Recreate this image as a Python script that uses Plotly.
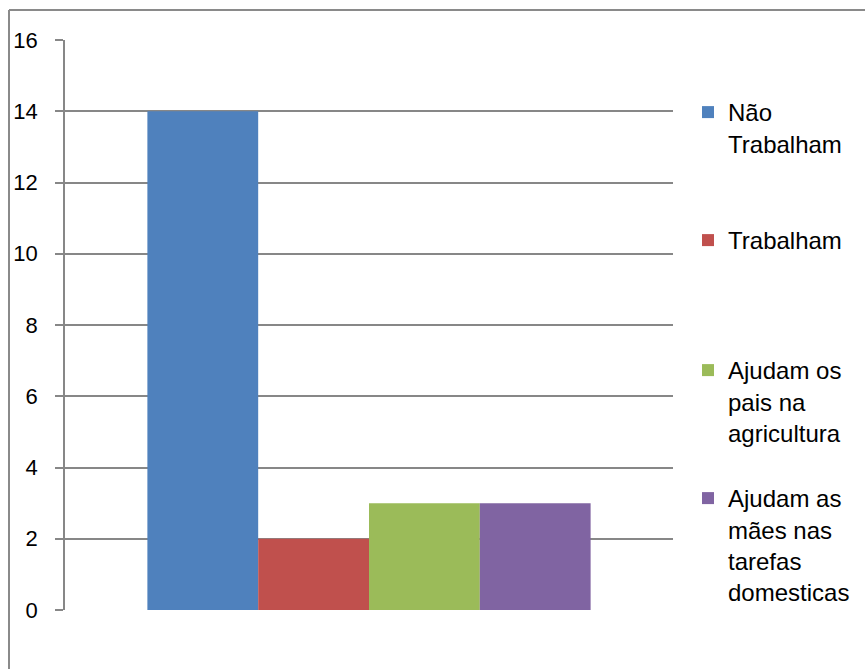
import plotly.graph_objects as go

categories = [""]
series_names = ["Não<br>Trabalham", "Trabalham", "Ajudam os<br>pais na<br>agricultura",
                "Ajudam as<br>mães nas<br>tarefas<br>domesticas"]
series_values = [[14], [2], [3], [3]]
colors = ["#4F81BD", "#C0504D", "#9BBB59", "#8064A2"]
y_ticks = [0, 2, 4, 6, 8, 10, 12, 14, 16]
legend_ids = ["legend", "legend2", "legend3", "legend4"]
first_line_px = [113, 241, 371, 499]

FONT = "Liberation Sans, Arial, sans-serif"

fig = go.Figure()
for name, vals, col, lid in zip(series_names, series_values, colors, legend_ids):
    fig.add_trace(go.Bar(x=categories, y=vals, name=name, marker=dict(color=col, line=dict(width=0)),
                         legend=lid))

leg_common = dict(xanchor="left", yanchor="top", x=1.0247, valign="top",
                  font=dict(family=FONT, size=24, color="#000"),
                  bgcolor="rgba(0,0,0,0)", borderwidth=0, itemclick=False)
layout_legends = {}
for lid, py in zip(legend_ids, first_line_px):
    layout_legends[lid] = dict(leg_common, y=(610 - (py - 23)) / 570)

fig.update_layout(
    width=865, height=669,
    margin=dict(l=65, r=192, t=40, b=59, pad=0, autoexpand=False),
    paper_bgcolor="white", plot_bgcolor="white",
    barmode="group", bargap=0.271, bargroupgap=0,
    showlegend=True,
    font=dict(family=FONT, size=22, color="#000"),
    xaxis=dict(showticklabels=False, showgrid=False, zeroline=False, showline=False, ticks=""),
    yaxis=dict(range=[0, 16], tickvals=y_ticks, showgrid=True, gridcolor="#878787", gridwidth=1.5,
               zeroline=False, showline=True, linecolor="#878787", linewidth=1.5,
               ticks="outside", ticklen=8, tickcolor="#878787", tickwidth=1.5,
               ticklabelstandoff=13, tickfont=dict(family=FONT, size=22, color="#000")),
    **layout_legends,
)

# outer chart border (left and top edges visible)
fig.add_shape(type="line", xref="paper", yref="paper", x0=(9 - 65) / 608, x1=(9 - 65) / 608,
              y0=-0.2, y1=1 + 30 / 570, line=dict(color="#8a8a8a", width=2))
fig.add_shape(type="line", xref="paper", yref="paper", x0=(9 - 65) / 608, x1=1.4,
              y0=1 + 30 / 570, y1=1 + 30 / 570, line=dict(color="#8a8a8a", width=2))

fig.write_html("out.html")
